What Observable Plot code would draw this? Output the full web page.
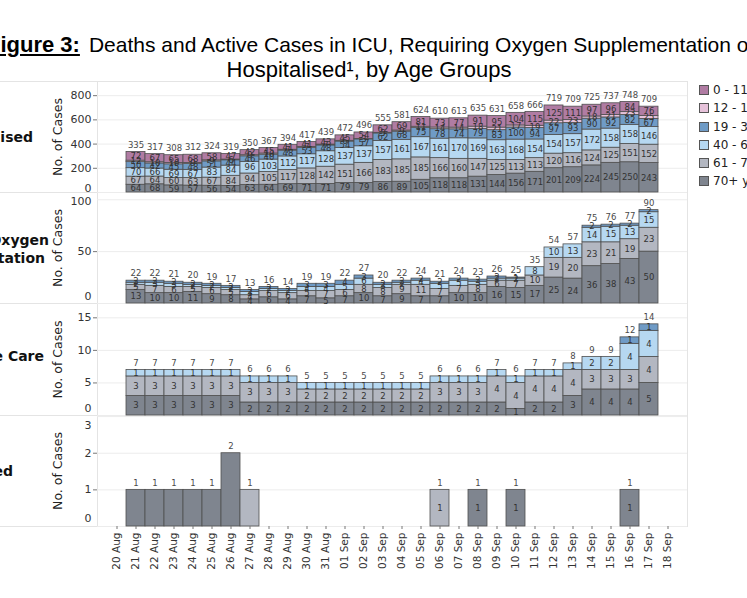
<!DOCTYPE html>
<html><head><meta charset="utf-8">
<script src="https://cdn.jsdelivr.net/npm/d3@7"></script>
<script src="https://cdn.jsdelivr.net/npm/@observablehq/plot@0.6"></script>
<style>
body{margin:0;background:#fff;}
#wrap{position:relative;width:747px;height:598px;overflow:hidden;background:#fff;font-family:"DejaVu Sans",sans-serif;}
.t{position:absolute;white-space:nowrap;font-family:"Liberation Sans",Arial,sans-serif;color:#000;}
.row{position:absolute;white-space:nowrap;font-family:"DejaVu Sans",sans-serif;font-weight:bold;font-size:14px;color:#111;text-align:right;transform:translateY(-50%);}
.line{position:absolute;background:#e4e4e4;}
.lg{position:absolute;font-family:"DejaVu Sans",sans-serif;font-size:12px;color:#222;white-space:nowrap;transform:translateY(-50%);}
.sw{position:absolute;width:8px;height:8px;border:1px solid #555;transform:translateY(-50%);}
</style></head><body><div id="wrap"></div>
<script>
const dates = ["20 Aug","21 Aug","22 Aug","23 Aug","24 Aug","25 Aug","26 Aug","27 Aug","28 Aug","29 Aug","30 Aug","31 Aug",
  "01 Sep","02 Sep","03 Sep","04 Sep","05 Sep","06 Sep","07 Sep","08 Sep","09 Sep","10 Sep","11 Sep","12 Sep","13 Sep",
  "14 Sep","15 Sep","16 Sep","17 Sep","18 Sep"];
const barDates = dates.slice(1, 29);
const ageGroups = ["70+ years","61 - 70","40 - 60","19 - 39","12 - 18","0 - 11"];
const ageColors = ["#7f858f","#b3b7c1","#b6d8f1","#6f9bc6","#e6c2da","#b07ca3"];

// Hospitalised
const hosp70   = [64,68,59,57,56,54,63,64,69,71,71,79,79,86,89,105,118,118,131,144,156,171,201,209,224,245,250,243];
const hosp6170 = [67,64,60,63,67,84,94,105,117,128,142,151,166,183,185,185,166,160,147,125,113,113,120,116,124,125,151,152];
const hosp4060 = [70,66,69,67,83,84,96,103,112,117,128,137,137,157,161,167,161,170,169,163,168,154,154,157,172,158,158,146];
const hosp1939 = [50,42,45,48,51,44,46,40,48,53,48,54,57,62,68,75,78,74,79,83,100,94,97,93,90,92,82,67];
const hosp1218 = [12,10,10,9,9,6,9,10,7,7,7,6,3,5,9,11,14,14,18,21,17,19,22,23,18,21,23,25];
const hosp011  = [72,67,65,68,58,47,42,45,41,41,43,45,54,62,69,81,73,77,91,95,104,115,125,111,97,96,84,76];

// Requiring oxygen supplementation
const ox70   = [13,10,10,11,9,8,4,6,4,7,5,7,10,7,9,7,7,10,10,16,15,17,25,24,36,38,43,50];
const ox6170 = [5,7,6,5,6,5,4,6,6,5,7,6,8,8,9,11,7,7,8,6,7,10,19,20,23,21,19,23];
const ox4060 = [2,3,3,2,2,2,3,2,2,4,4,5,6,3,2,4,5,5,3,2,2,8,10,13,14,15,13,15];
const ox1939 = [2,2,2,2,2,2,2,2,2,3,3,4,3,2,2,2,2,2,2,2,1,0,0,0,2,2,2,2];
const ox1218 = [0,0,0,0,0,0,0,0,0,0,0,0,0,0,0,0,0,0,0,0,0,0,0,0,0,0,0,0];
const ox011  = [0,0,0,0,0,0,0,0,0,0,0,0,0,0,0,0,0,0,0,0,0,0,0,0,0,0,0,0];

// Intensive care
const icu70   = [3,3,3,3,3,3,2,2,2,2,2,2,2,2,2,2,2,2,2,2,1,2,2,3,4,4,4,5];
const icu6170 = [3,3,3,3,3,3,3,3,3,2,2,2,2,2,2,2,3,3,3,4,4,4,4,4,3,3,3,4];
const icu4060 = [1,1,1,1,1,1,1,1,1,1,1,1,1,1,1,1,1,1,1,1,1,1,1,1,2,2,4,4];
const icu1939 = [0,0,0,0,0,0,0,0,0,0,0,0,0,0,0,0,0,0,0,0,0,0,0,0,0,0,1,1];
const icu1218 = [0,0,0,0,0,0,0,0,0,0,0,0,0,0,0,0,0,0,0,0,0,0,0,0,0,0,0,0];
const icu011  = [0,0,0,0,0,0,0,0,0,0,0,0,0,0,0,0,0,0,0,0,0,0,0,0,0,0,0,0];

// Deceased
const dec70   = [1,1,1,1,1,2,0,0,0,0,0,0,0,0,0,0,0,0,1,0,1,0,0,0,0,0,1,0];
const dec6170 = [0,0,0,0,0,0,1,0,0,0,0,0,0,0,0,0,1,0,0,0,0,0,0,0,0,0,0,0];
const dec4060 = [0,0,0,0,0,0,0,0,0,0,0,0,0,0,0,0,0,0,0,0,0,0,0,0,0,0,0,0];
const dec1939 = dec4060, dec1218 = dec4060, dec011 = dec4060;

const yTicks1 = [0,200,400,600,800];
const yTicks2 = [0,50,100];
const yTicks3 = [0,5,10,15];
const yTicks4 = [0,1,2,3];

const titleLine1Bold = "Figure 3:";
const titleLine1 = "Deaths and Active Cases in ICU, Requiring Oxygen Supplementation or";
const titleLine2 = "Hospitalised\u00b9, by Age Groups";
const yLabel = "No. of Cases";

function toLong(series) {
  return barDates.flatMap((date, i) => ageGroups.map((age, k) => ({date, age, value: series[k][i]})))
    .filter(d => d.value > 0);
}

const panels = [
  {rows: [["Hospitalised", 33, 137]], data: toLong([hosp70,hosp6170,hosp4060,hosp1939,hosp1218,hosp011]), yMax: 917, ticks: yTicks1, shift: {0: -4}, top: 81, bottom: 192},
  {rows: [["Requiring Oxygen", 49, 240], ["Supplementation", 45, 258]], data: toLong([ox70,ox6170,ox4060,ox1939,ox1218,ox011]), yMax: 107, ticks: yTicks2, shift: {0: -7, 100: 2}, top: 192, bottom: 303},
  {rows: [["Intensive Care", 44, 356]], data: toLong([icu70,icu6170,icu4060,icu1939,icu1218,icu011]), yMax: 17.2, ticks: yTicks3, shift: {0: -7}, top: 303, bottom: 415},
  {rows: [["Deceased", 13, 471]], data: toLong([dec70,dec6170,dec4060,dec1939,dec1218,dec011]), yMax: 3.03, ticks: yTicks4, shift: {0: -8, 3: 9}, top: 415, bottom: 526, xAxis: true, innerFilter: d => d.date.endsWith("Sep")}
];

const wrap = document.getElementById("wrap");
function add(html){ wrap.insertAdjacentHTML("beforeend", html); }

// separators and frame
[81,192,303,415,526].forEach(y => add(`<div class="line" style="left:0;top:${y}px;width:688px;height:1px"></div>`));
[97,687].forEach(x => add(`<div class="line" style="left:${x}px;top:81px;width:1px;height:446px"></div>`));

// title
add(`<div class="t" style="left:-13px;top:32px;font-size:21px;line-height:26px"><b><u style="font-size:22px">${titleLine1Bold}</u></b><span style="margin-left:9px">${titleLine1}</span></div>`);
add(`<div class="t" style="left:0;width:738px;text-align:center;top:57px;font-size:22px;line-height:26px">${titleLine2}</div>`);

panels.forEach(p => {
  p.rows.forEach(([txt, endX, y]) => add(`<div class="row" style="right:${747-endX}px;top:${y}px">${txt}</div>`));
  const h = p.bottom - p.top;
  const mb = p.xAxis ? 72 : 0;
  const inner = p.innerFilter ? p.data.filter(p.innerFilter) : p.data;
  const plainTicks = p.ticks.filter(t => !(t in p.shift));
  const shiftedTicks = p.ticks.filter(t => t in p.shift);
  const marks = [
    Plot.gridY(p.ticks, {stroke: "#ececec", strokeOpacity: 1}),
    Plot.axisY(plainTicks, {tickSize: 4, tickPadding: 2, fontSize: 11, label: null, stroke: "#777"}),
    ...shiftedTicks.map(t => Plot.text([t], {y: d => d, text: d => String(d), frameAnchor: "left", textAnchor: "end", dx: -6, dy: p.shift[t], fontSize: 11, fill: "#333"})),
    Plot.barY(p.data, {x: "date", y: "value", fill: "age", order: ageGroups, stroke: "#4f4f4f", strokeWidth: 0.8}),
    Plot.text(inner, Plot.stackY({x: "date", y: "value", z: "age", order: ageGroups, text: "value", fontSize: 8.5, fill: "#333"})),
    Plot.text(p.data, Plot.groupX({y: "sum", text: "sum"}, {x: "date", y: "value", text: "value", dy: -7, fontSize: 8.5, fill: "#4a4a4a"})),
    Plot.text([yLabel], {frameAnchor: "left", textAnchor: "middle", dx: -40, rotate: -90, fontSize: 12.5, fill: "#222"})
  ];
  if (p.xAxis) marks.push(Plot.axisX({tickRotate: -90, tickSize: 3, tickPadding: 3, fontSize: 10.5, label: null, stroke: "#777"}));
  const svg = Plot.plot({
    width: 747, height: h + mb,
    marginLeft: 97, marginRight: 60, marginTop: 0, marginBottom: mb,
    style: {background: "transparent", overflow: "visible", fontFamily: "DejaVu Sans", color: "#333"},
    x: {type: "band", domain: dates, paddingInner: 0, paddingOuter: 0.44, axis: null},
    y: {domain: [0, p.yMax], axis: null},
    color: {domain: ageGroups, range: ageColors},
    marks
  });
  svg.style.position = "absolute";
  svg.style.left = "0px";
  svg.style.top = p.top + "px";
  wrap.appendChild(svg);
});

// legend
const legendY = [90,108,127,145,163,181];
ageGroups.slice().reverse().forEach((age, i) => {
  const col = ageColors[ageGroups.indexOf(age)];
  add(`<div class="sw" style="left:699px;top:${legendY[i]}px;background:${col}"></div>`);
  add(`<div class="lg" style="left:713px;top:${legendY[i]}px">${age}</div>`);
});
</script></body></html>
